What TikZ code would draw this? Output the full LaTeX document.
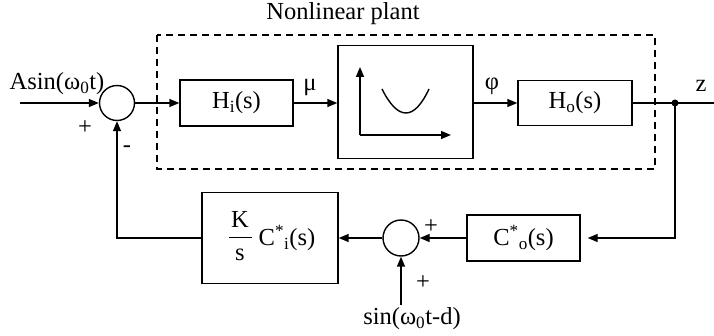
\documentclass[tikz,border=0pt]{standalone}
\usepackage{fontspec}
\setmainfont{Liberation Serif}
\usetikzlibrary{arrows.meta}
\begin{document}
\begin{tikzpicture}[x=1pt,y=-1pt,
  font=\fontsize{24.5}{28}\selectfont,
  line width=1.4pt,
  >={Triangle[length=10pt,width=8pt]},
  blk/.style={draw,rectangle,inner sep=0pt},
  summer/.style={draw,circle,inner sep=0pt,minimum size=35pt},
  lbl/.style={inner sep=0pt}]
\useasboundingbox (0,0) rectangle (714,336);
% plant frame
\draw[dash pattern=on 7pt off 5pt] (157,35) rectangle (655,169);
\node[lbl] (plant) at (343,14) {Nonlinear plant};
% forward path
\coordinate (in) at (20,103);
\node[summer] (s1) at (117,103) {};
\node[blk,minimum width=113pt,minimum height=46pt] (hi) at (236.5,103) {H\textsubscript{i}(s)};
\node[blk,minimum width=135pt,minimum height=113pt] (nl) at (405.5,102) {};
\node[blk,minimum width=114pt,minimum height=45pt] (ho) at (575,103) {H\textsubscript{o}(s)};
\node[circle,fill,inner sep=0pt,minimum size=7pt] (dot) at (675,103) {};
\coordinate (out) at (714,103);
\node[lbl] (ain) at (57,84) {Asin(ω\textsubscript{0}t)};
\node[lbl] (mu) at (310,88) {μ};
\node[lbl] (phi) at (492,86) {φ};
\node[lbl] (z) at (701,86) {z};
\node[lbl] (p1) at (85,128) {+};
\node[lbl] (m1) at (127,149) {-};
% nonlinearity sketch
\draw[->] (360,135) -- (360,67);
\draw[->] (360,135) -- (451,135);
\draw (382,89) .. controls (398,121) and (414,121) .. (429,89);
% feedback path
\node[blk,minimum width=113pt,minimum height=46pt] (co) at (523.5,238) {C\textsuperscript{*}\textsubscript{o}(s)};
\node[summer,minimum size=36pt] (s2) at (401,238) {};
\node[blk,minimum width=136pt,minimum height=91pt] (kc) at (270,238) {};
\node[lbl] (kk) at (240,219) {K};
\draw[line width=0.9pt] (229,237) -- (252,237);
\node[lbl] (ss) at (240,255) {s};
\node[lbl,anchor=west] (ci) at (258,238) {C\textsuperscript{*}\textsubscript{i}(s)};
\coordinate (sinst) at (401,305);
\node[lbl] (sinl) at (412,319) {sin(ω\textsubscript{0}t-d)};
\node[lbl] (p2) at (431,227) {+};
\node[lbl] (p3) at (423,283) {+};
% connectors
\draw[->] (in) -- (s1.west);
\draw[->] (s1.east) -- (hi.west);
\draw[->] (hi.east) -- (hi.east -| nl.west);
\draw[->] (hi.east -| nl.east) -- (ho.west);
\draw (ho.east) -- (out);
\draw[->,shorten >=7pt] (dot.center) |- (co.east);
\draw[->] (co.west) -- (s2.east);
\draw[->] (s2.west) -- (kc.east);
\draw[->] (kc.west) -| (s1.south);
\draw[->] (sinst) -- (s2.south);
\end{tikzpicture}
\end{document}
